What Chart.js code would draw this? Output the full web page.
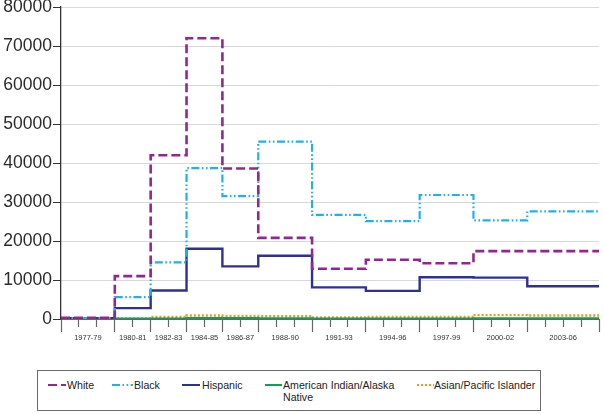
<!DOCTYPE html>
<html lang="en">
<head>
  <meta charset="UTF-8">
  <title>Step chart by group</title>
  <script src="https://cdn.jsdelivr.net/npm/chart.js"></script>
  <style>
    body {
      margin: 0;
      padding: 0;
      background: #fff;
      font-family: "Liberation Sans", Arial, sans-serif;
    }
    .wrap {
      position: relative;
      width: 604px;
      height: 414px;
    }
    .chart-box {
      position: absolute;
      left: 0;
      top: 0;
      width: 604px;
      height: 365px;
    }
    .legend {
      position: absolute;
      left: 37px;
      top: 370px;
      width: 502px;
      height: 39px;
      border: 1px solid #6b6b6b;
    }
    .legend .item {
      position: absolute;
      top: 8px;
      font-size: 10.6px;
      line-height: 12px;
      color: #222;
      white-space: nowrap;
    }
    .legend svg {
      position: absolute;
      top: 3px;
    }
  </style>
</head>
<body>
  <div class="wrap">
    <div class="chart-box"><canvas id="stepChart"></canvas></div>
    <div class="legend" id="legend"></div>
  </div>

  <script>
    // periods shown on the x axis and the year each one starts
    const periodLabels = ["1977-79", "1980-81", "1982-83", "1984-85", "1986-87", "1988-90",
                          "1991-93", "1994-96", "1997-99", "2000-02", "2003-06"];
    const periodStart = [1977, 1980, 1982, 1984, 1986, 1988, 1991, 1994, 1997, 2000, 2003];
    const lastYear = 2007;

    const white = [300, 11000, 42000, 72000, 38600, 20800, 12900, 15200, 14300, 17400, 17400];
    const black = [200, 5600, 14500, 38700, 31500, 45500, 26700, 25100, 31800, 25300, 27600];
    const hispanic = [200, 2800, 7300, 18000, 13500, 16200, 8100, 7200, 10700, 10600, 8400];
    const amIndian = [50, 50, 100, 200, 200, 150, 100, 100, 100, 150, 150];
    const asianPI = [100, 100, 500, 900, 800, 700, 400, 500, 500, 1000, 900];

    const yTicks = { min: 0, max: 80000, step: 10000 };

    const toPoints = (values) => {
      const pts = values.map((v, i) => ({ x: periodStart[i], y: v }));
      pts.push({ x: lastYear, y: values[values.length - 1] });
      return pts;
    };

    // label sits in the middle of each period
    const labelPos = periodStart.map((s, i) => {
      const end = i < periodStart.length - 1 ? periodStart[i + 1] : lastYear;
      return (s + end) / 2;
    });
    const boundaries = periodStart.concat([lastYear]);

    const series = [
      { label: "White", data: white, color: "#93278f", dash: [9, 4], width: 2.6 },
      { label: "Black", data: black, color: "#1fb1ea", dash: [8, 2.5, 1.6, 2.5, 1.6, 2.5], width: 2.2 },
      { label: "Hispanic", data: hispanic, color: "#2e3192", dash: [], width: 2.4 },
      { label: "American Indian/Alaska\nNative", data: amIndian, color: "#00a651", dash: [], width: 2.4 },
      { label: "Asian/Pacific Islander", data: asianPI, color: "#f7941d", dash: [2, 2], width: 2.4 },
    ];

    const ctx = document.getElementById("stepChart").getContext("2d");

    const chart = new Chart(ctx, {
      type: "line",
      data: {
        datasets: series.map((s) => ({
          label: s.label,
          data: toPoints(s.data),
          borderColor: s.color,
          borderDash: s.dash,
          borderWidth: s.width,
          stepped: true,
          pointRadius: 0,
          fill: false,
        })),
      },
      options: {
        responsive: true,
        maintainAspectRatio: false,
        animation: false,
        layout: { padding: { left: 0, right: 5, top: 0, bottom: 0 } },
        plugins: {
          legend: { display: false },
          tooltip: { enabled: false },
        },
        scales: {
          x: {
            type: "linear",
            min: 1977,
            max: lastYear,
            afterBuildTicks: (scale) => {
              const vals = [];
              for (let y = 1977; y <= lastYear; y++) vals.push(y);
              labelPos.forEach((p) => { if (!vals.includes(p)) vals.push(p); });
              vals.sort((a, b) => a - b);
              scale.ticks = vals.map((v) => ({ value: v }));
            },
            afterFit: (scale) => { scale.height = 46; },
            ticks: {
              autoSkip: false,
              maxRotation: 0,
              padding: 1,
              color: "#333",
              font: { family: "Liberation Sans", size: 7.5 },
              callback: (value) => {
                const i = labelPos.indexOf(value);
                return i >= 0 ? periodLabels[i] : "";
              },
            },
            grid: {
              drawOnChartArea: false,
              tickLength: 13,
              tickWidth: 1.2,
              tickColor: (c) => (Number.isInteger(c.tick.value) ? "#666" : "rgba(0,0,0,0)"),
              tickBorderDash: (c) => (boundaries.includes(c.tick.value) ? [] : [7, 30]),
            },
            border: { display: true, color: "#666", width: 1 },
          },
          y: {
            min: yTicks.min,
            max: yTicks.max,
            afterFit: (scale) => {
              scale.width = 61;
              scale.paddingTop = 7;
            },
            ticks: {
              stepSize: yTicks.step,
              padding: 1,
              color: "#2b2b2b",
              font: { family: "Liberation Sans", size: 17.5 },
              callback: (value) => String(value),
            },
            grid: {
              color: (c) => (c.tick.value === 0 ? "rgba(0,0,0,0)" : "#d9d9d9"),
              tickColor: "#333",
              tickLength: 8,
              lineWidth: 1,
            },
            border: { color: "#333", width: 1.3 },
          },
        },
      },
    });

    // html legend, each sample drawn as a short svg line
    const legendPos = [
      { sample: 10, text: 29, w: 18 },
      { sample: 74, text: 96, w: 21 },
      { sample: 144, text: 164, w: 18 },
      { sample: 227, text: 245, w: 17 },
      { sample: 379, text: 396, w: 17 },
    ];
    const legendEl = document.getElementById("legend");
    series.forEach((s, i) => {
      const p = legendPos[i];
      const svg = `<svg width="${p.w}" height="6" style="left:${p.sample}px;top:${8 + 3}px">
        <line x1="0" y1="3" x2="${p.w}" y2="3" stroke="${s.color}" stroke-width="2"
          stroke-dasharray="${s.dash.join(" ")}"/></svg>`;
      legendEl.insertAdjacentHTML("beforeend", svg);
      const item = document.createElement("div");
      item.className = "item";
      item.style.left = p.text + "px";
      item.innerHTML = s.label.replace("\n", "<br>");
      legendEl.appendChild(item);
    });
  </script>
</body>
</html>
